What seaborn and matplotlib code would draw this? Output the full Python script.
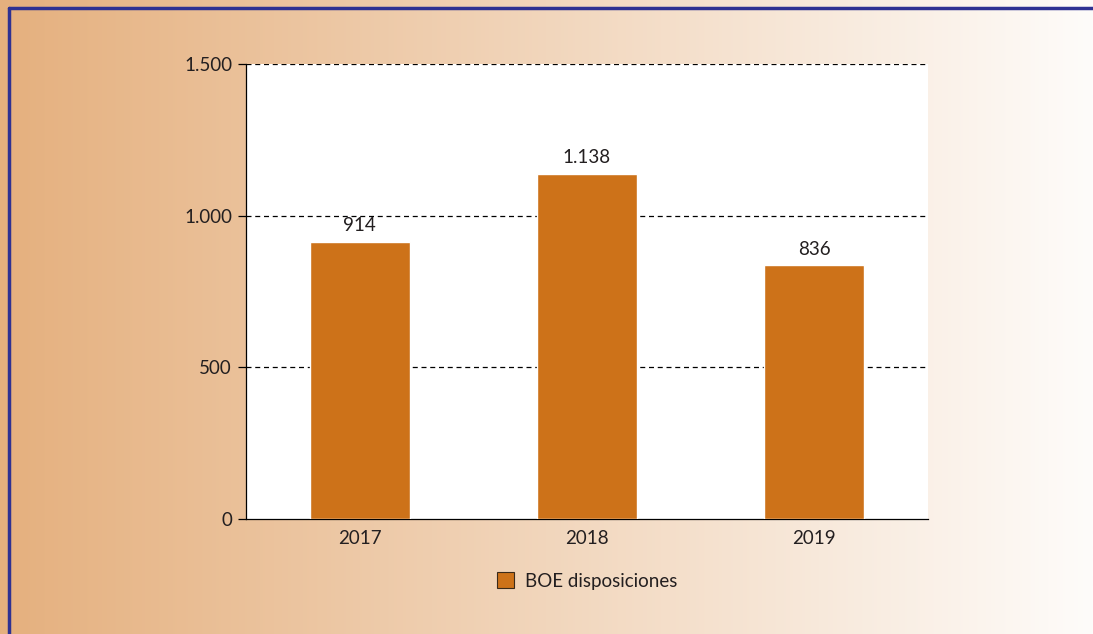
import matplotlib.pyplot as plt
import matplotlib.lines as mlines
import matplotlib.patches as mpatches
import numpy as np
import pandas as pd
import seaborn as sns

# data
years = ["2017", "2018", "2019"]
values = [914, 1138, 836]
yticks = [0, 500, 1000, 1500]
ytick_labels = ["0", "500", "1.000", "1.500"]
series_name = "BOE disposiciones"

df = pd.DataFrame({"year": years, "value": values})

sns.set_style("white")
plt.rcParams["font.family"] = ["Lato", "DejaVu Sans"]

bar_color = "#CD7219"
text_color = "#231F20"
fs = 13.5

fig = plt.figure(figsize=(10.93, 6.34), dpi=100)

# gradient background
bg = fig.add_axes([0, 0, 1, 1], zorder=-10)
grad = np.linspace(0, 1, 512)
left = np.array([229, 176, 126]) / 255
right = np.array([254, 252, 250]) / 255
img = left[None, :] * (1 - grad[:, None]) + right[None, :] * grad[:, None]
bg.imshow(img[None, :, :], aspect="auto", extent=[0, 1, 0, 1])
bg.set_xlim(0, 1)
bg.set_ylim(0, 1)
bg.axis("off")

# blue frame (top and left visible)
fig.add_artist(mlines.Line2D([9 / 1093, 1], [1 - 8 / 634, 1 - 8 / 634],
                             transform=fig.transFigure, color="#2E3192", lw=2.5))
fig.add_artist(mlines.Line2D([9 / 1093, 9 / 1093], [0, 1 - 8 / 634],
                             transform=fig.transFigure, color="#2E3192", lw=2.5))

ax = fig.add_axes([246 / 1093, 1 - 519 / 634, (928 - 246) / 1093, (519 - 64) / 634])
ax.set_facecolor("white")

sns.barplot(data=df, x="year", y="value", color=bar_color, saturation=1,
            width=0.44, ax=ax, zorder=3)

ax.set_xlim(-0.5, 2.5)
ax.set_ylim(0, 1500)
ax.set_yticks(yticks)
ax.set_yticklabels(ytick_labels)
ax.set_xlabel("")
ax.set_ylabel("")

# dashed grid
for y in yticks[1:]:
    ax.axhline(y, color="black", lw=0.9, ls=(0, (4, 3)), zorder=1)

for s in ["top", "right"]:
    ax.spines[s].set_visible(False)
ax.spines["left"].set_color("black")
ax.spines["bottom"].set_color("black")
ax.spines["left"].set_linewidth(0.9)
ax.spines["bottom"].set_linewidth(0.9)

# category boundary ticks on x axis
ax.set_xticks([-0.5, 0.5, 1.5, 2.5], minor=True)
ax.tick_params(axis="x", which="minor", length=6, width=0.9, direction="out", color="black")
ax.tick_params(axis="x", which="major", length=0, labelsize=fs, labelcolor=text_color, pad=8)
ax.tick_params(axis="y", length=6, width=0.9, direction="out", color="black",
               labelsize=fs, labelcolor=text_color, pad=4)
ax.tick_params(left=True, bottom=True)

# value labels
for i, v in enumerate(values):
    ax.text(i, v + 26, f"{v:,}".replace(",", "."), ha="center", va="bottom",
            fontsize=fs, color=text_color)

handle = mpatches.Patch(facecolor=bar_color, edgecolor="#3a2a1a", linewidth=0.8, label=series_name)
fig.legend(handles=[handle], loc="center", bbox_to_anchor=(587 / 1093, 1 - 581 / 634),
           frameon=False, fontsize=fs, handlelength=0.9, handleheight=0.9,
           handletextpad=0.6, labelcolor=text_color)

fig.savefig("out.png", dpi=100)
